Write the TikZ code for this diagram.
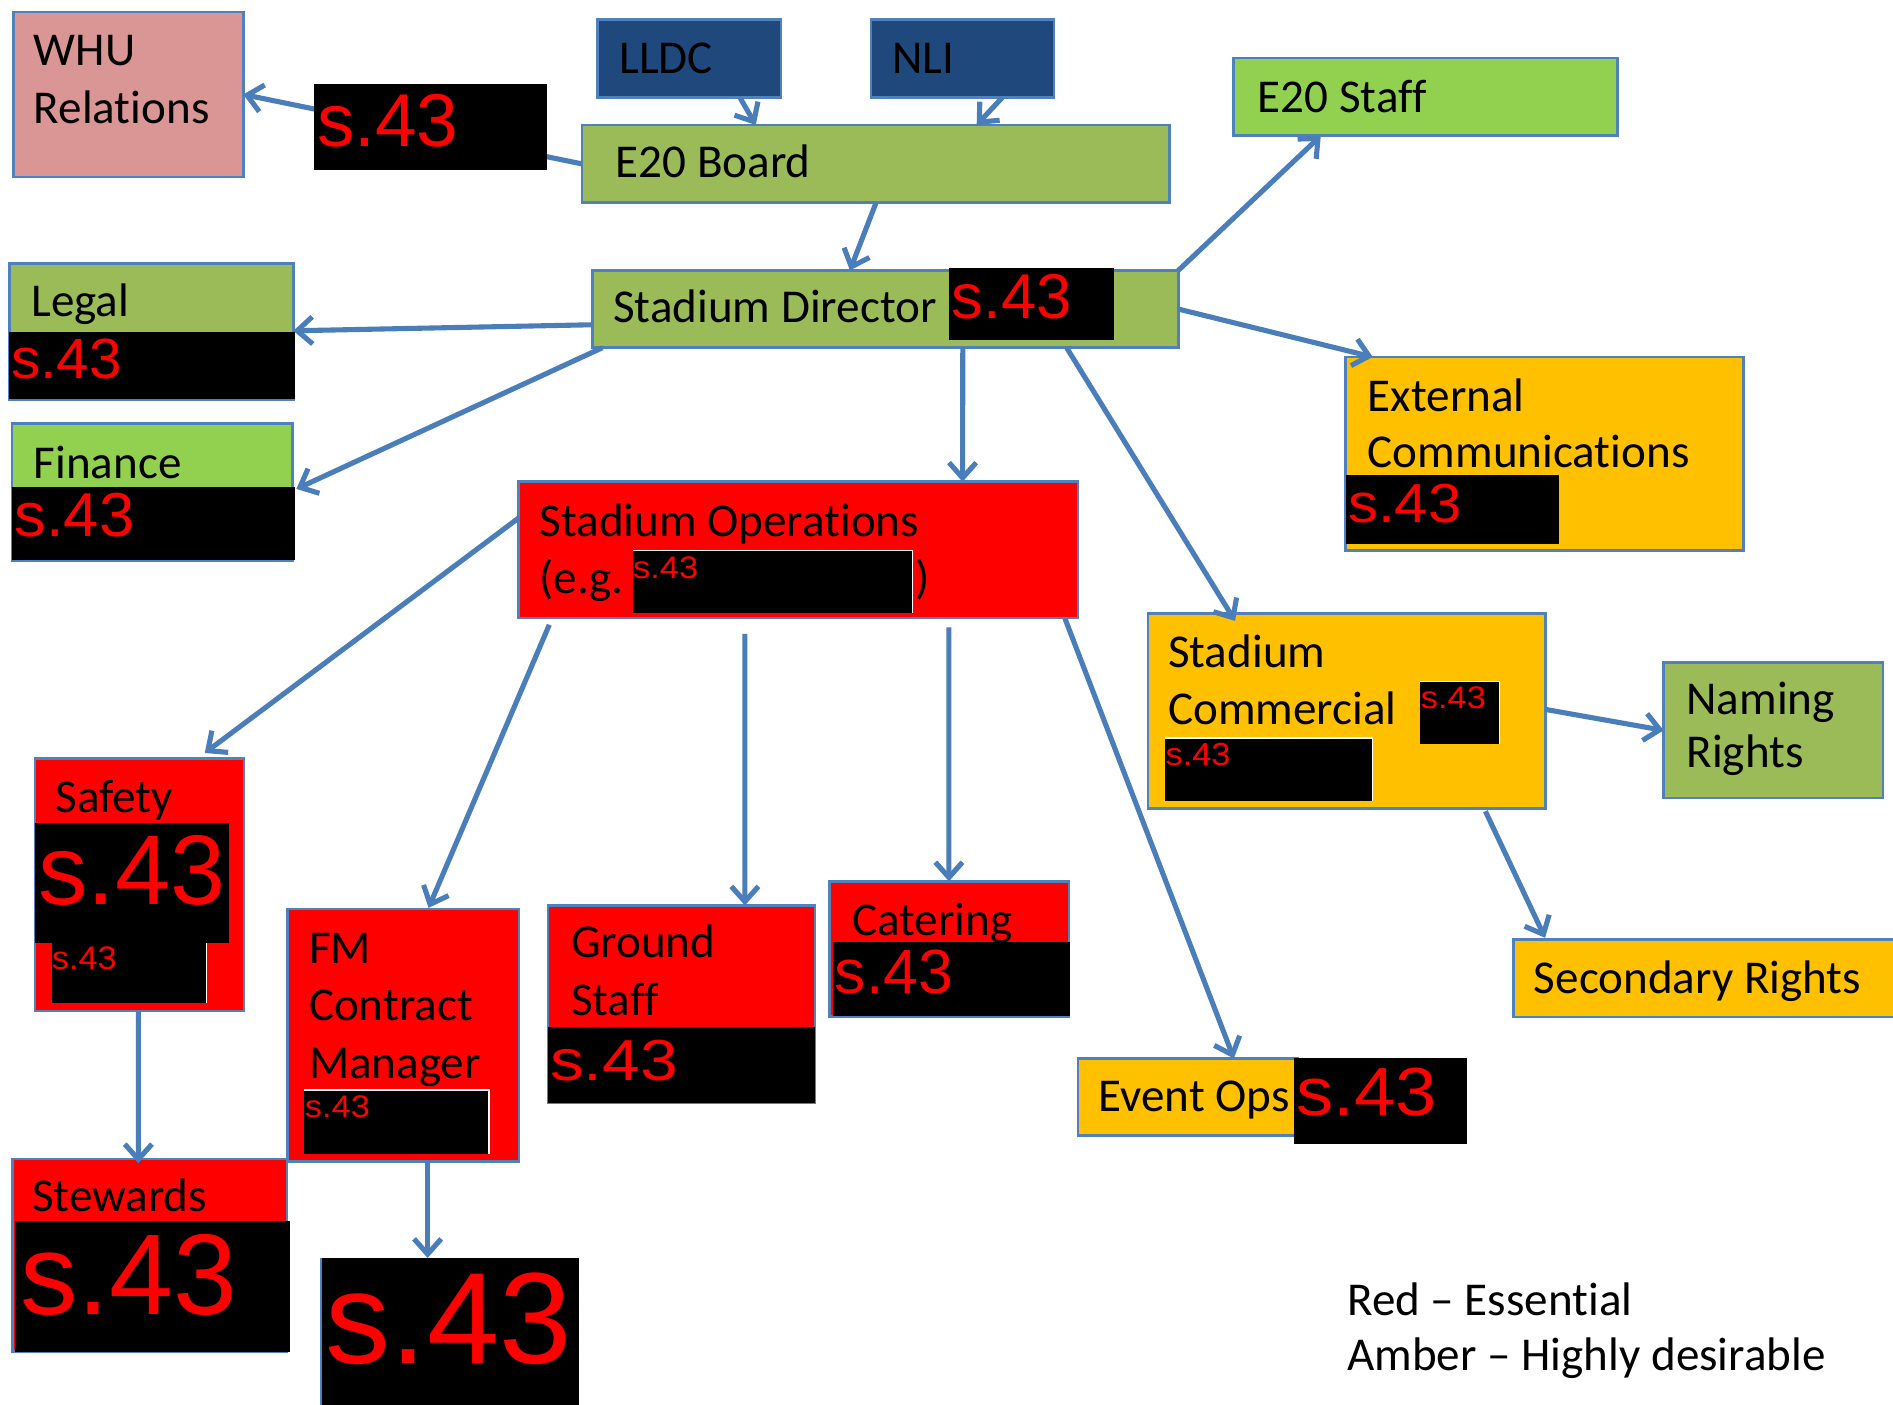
\documentclass[tikz,border=0pt]{standalone}
\usepackage{fontspec}
\usepackage{graphicx}
\setmainfont{Carlito}[Ligatures=CommonOff]
\newfontfamily\arialf{Liberation Sans}
\usetikzlibrary{fit,calc,arrows.meta}
\definecolor{bdr}{HTML}{4F81BD}
\definecolor{arrc}{HTML}{4A7EBB}
\definecolor{oliveg}{HTML}{9BBB59}
\definecolor{limeg}{HTML}{92D050}
\definecolor{amber}{HTML}{FFC000}
\definecolor{redb}{HTML}{FF0000}
\definecolor{pinkb}{HTML}{D99694}
\definecolor{navyb}{HTML}{1F497D}
\tikzset{
  box/.style={draw=bdr, line width=1.6pt},
  blk/.style={fill=black, draw=none},
  wedge/.style={draw=white, line width=0.7pt},
  lbl/.style={anchor=base west, inner sep=0pt, outer sep=0pt, font=\fontsize{27.74}{33}\selectfont},
  arr/.style={draw=arrc, line width=3pt, -{Straight Barb[length=9pt,width=16pt]}},
}
\newcommand{\bx}[6]{\node[fit={(#2,#3) (#4,#5)}, inner sep=0pt, outer sep=0pt, #6] (#1) {};}
\newcommand{\tx}[4]{\node[lbl] (#1) at (#2,#3) {#4};}
\newcommand{\sq}[5]{\node[anchor=base west, inner sep=0pt, outer sep=0pt, text=redb] (#1) at (#2,#3) {\fontsize{#4}{#4}\arialf\scalebox{#5}[1]{s.43}};}
\newcommand{\wtr}[1]{\draw[wedge] (#1.north west) -- (#1.north east) -- (#1.south east);}
\begin{document}
\begin{tikzpicture}[x=0.025cm,y=-0.025cm]
\fill[white] (0,0) rectangle (1568,1163);
\useasboundingbox (0,0) rectangle (1568,1163);
% boxes
\bx{whu}{11}{10}{201.5}{146.5}{box, fill=pinkb}
\bx{lldc}{495}{16}{647}{81}{box, fill=navyb}
\bx{nli}{721.5}{16}{873}{81}{box, fill=navyb}
\bx{board}{482}{103.5}{968.5}{168}{box, fill=oliveg}
\bx{staff}{1022}{48}{1340}{112.5}{box, fill=limeg}
\bx{sd}{491}{224}{976}{288}{box, fill=oliveg}
\bx{legal}{8}{218}{243}{331}{box, fill=oliveg}
\bx{fin}{10}{351}{242.5}{464}{box, fill=limeg}
\bx{ext}{1114.6}{295.7}{1444}{455.7}{box, fill=amber}
\bx{so}{429.7}{399}{893}{512}{box, fill=redb}
\bx{sc}{951}{508.3}{1280}{669.7}{box, fill=amber}
\bx{nr}{1378}{549}{1559.7}{661}{box, fill=oliveg}
\bx{secr}{1253.8}{778.4}{1590}{842.5}{box, fill=amber}
\bx{safety}{29}{628.4}{202}{837.5}{box, fill=redb}
\bx{stew}{10.4}{960}{237.8}{1119.6}{box, fill=redb}
\bx{fm}{238}{753}{430}{962}{box, fill=redb}
\bx{gs}{454}{750}{675}{913.6}{box, fill=redb}
\bx{cat}{687}{730}{885.5}{842}{box, fill=redb}
\bx{ev}{893}{876.7}{1075}{940.7}{box, fill=amber}
% labels
\tx{whu1}{28}{54.5}{WHU}
\tx{whu2}{28}{102}{Relations}
\tx{lldct}{513}{60.7}{LLDC}
\tx{nlit}{739}{60.7}{NLI}
\tx{boardt}{510}{147}{E20 Board}
\tx{stafft}{1042}{93.5}{E20 Staff}
\tx{sdt}{508}{267}{Stadium Director}
\tx{legalt}{26}{262.3}{Legal}
\tx{fint}{28}{396}{Finance}
\tx{ext1}{1133}{340.7}{External}
\tx{ext2}{1133}{387}{Communications}
\tx{so1}{447}{444}{Stadium Operations}
\tx{so2}{447}{492}{(e.g.}
\tx{so3}{758}{492}{)}
\tx{sc1}{967.6}{552.7}{Stadium}
\tx{sc2}{967.6}{600.3}{Commercial}
\tx{nr1}{1397}{592}{Naming}
\tx{nr2}{1397}{636}{Rights}
\tx{secrt}{1270.6}{822.7}{Secondary Rights}
\tx{evt}{910}{921}{Event Ops}
\tx{safetyt}{46}{672.7}{Safety}
\tx{fm1}{256}{798}{FM}
\tx{fm2}{256}{845.5}{Contract}
\tx{fm3}{256}{893}{Manager}
\tx{gs1}{473}{793}{Ground}
\tx{gs2}{473}{841}{Staff}
\tx{catt}{706}{774.8}{Catering}
\tx{stewt}{26.7}{1003.6}{Stewards}
\tx{leg1}{1116}{1089.5}{Red -- Essential}
\tx{leg2}{1116}{1135}{Amber -- Highly desirable}
% black boxes
\bx{ksd}{786}{222}{923}{282}{blk}
\bx{klegal}{7.4}{274.7}{244}{330.8}{blk}
\bx{kfin}{10.2}{403}{244.7}{464}{blk}
\bx{kext}{1114.6}{393.6}{1291}{451}{blk}
\bx{kso}{524.3}{456}{756}{508}{blk}
\wtr{kso}
\bx{ksc1}{1176}{564.4}{1242}{616}{blk}
\wtr{ksc1}
\bx{ksc2}{964.7}{611.3}{1137}{663.6}{blk}
\wtr{ksc2}
\bx{ksaf1}{29}{681.7}{190}{781.5}{blk}
\bx{ksaf2}{42.8}{781.5}{171}{831}{blk}
\draw[wedge] (ksaf2.north east) -- (ksaf2.south east);
\bx{kfm}{251.5}{902.8}{405}{956}{blk}
\wtr{kfm}
\bx{kstew}{12.2}{1011}{240.3}{1119.6}{blk}
\bx{kbot}{266}{1042}{479.6}{1175}{blk}
\draw[bdr, line width=1.6pt] (kbot.north west) -- (kbot.south west);
\bx{kgs}{454}{850.6}{675}{913.6}{blk}
\bx{kcat}{689.6}{780}{886.5}{841.4}{blk}
\bx{kev}{1072}{876}{1215}{947.3}{blk}
% red codes
\sq{rsd}{788.5}{263.6}{37.3}{1}
\sq{rlegal}{9.3}{313.4}{33.4}{1.03}
\sq{rfin}{12}{444.5}{36.6}{1.02}
\sq{rext}{1116.6}{432.7}{32.4}{1.09}
\sq{rso}{524.5}{479}{18.4}{1.1}
\sq{rsc1}{1177}{586.6}{18.4}{1.1}
\sq{rsc2}{965.6}{634}{18.8}{1.07}
\sq{rsaf1}{31.7}{748.8}{58.3}{1}
\sq{rsaf2}{43}{803}{19.2}{1.05}
\sq{rfm}{252.6}{926}{18.4}{1.1}
\sq{rstew}{16.6}{1089}{67.6}{1}
\sq{rbot}{270}{1129}{76.5}{1}
\sq{rgs}{455.6}{895}{34.1}{1.17}
\sq{rcat}{691.5}{823}{36.8}{1}
\sq{rev}{1074}{924}{40.1}{1.09}
% arrows
\draw[arr] (board.west) -- (whu.east);
\bx{kwhu}{260}{69.6}{453}{140.8}{blk}
\sq{rwhu}{262.6}{121.5}{44.1}{1}
\draw[arr] ($(lldc.south west)+(118,0)$) -- ($(board.north west)+(144,0)$);
\draw[arr] ($(nli.south west)+(108.5,0)$) -- ($(board.north west)+(327,0)$);
\draw[arr] ($(board.south west)+(243.6,0)$) -- ($(sd.north west)+(213,0)$);
\draw[arr] (sd.north east) -- ($(staff.south west)+(72,0)$);
\draw[arr] (sd.east) -- ($(ext.north west)+(22.5,0)$);
\draw[arr] ($(sd.south west)+(0,-19)$) -- ($(legal.north east)+(0,56)$);
\draw[arr] ($(sd.south west)+(8,0)$) -- ($(fin.north east)+(3,54)$);
\draw[arr] ($(sd.south west)+(306.5,0)$) -- ($(so.north west)+(367.6,0)$);
\draw[arr] ($(sd.south west)+(392.5,0)$) -- ($(sc.north west)+(72,6)$);
\draw[arr] ($(so.north west)+(0,30)$) -- ($(safety.north west)+(140.6,-4.7)$);
\draw[arr] ($(so.south west)+(25.3,5.5)$) -- ($(fm.north west)+(117,-1)$);
\draw[arr] ($(so.south west)+(187.3,13)$) -- ($(gs.north west)+(163,0)$);
\draw[arr] ($(so.south west)+(356.3,7.6)$) -- ($(cat.north west)+(99,0)$);
\draw[arr] ($(so.south east)+(-11,0)$) -- ($(ev.north west)+(129,0)$);
\draw[arr] ($(sc.north east)+(0,79.3)$) -- ($(nr.north west)+(0,56)$);
\draw[arr] ($(sc.south west)+(279.4,2.3)$) -- ($(secr.north west)+(26,-1.6)$);
\draw[arr] ($(safety.south west)+(85.6,0)$) -- ($(stew.north west)+(104.2,3.5)$);
\draw[arr] ($(fm.south west)+(116.2,0)$) -- ($(kbot.north west)+(88.2,0)$);
\end{tikzpicture}
\end{document}
